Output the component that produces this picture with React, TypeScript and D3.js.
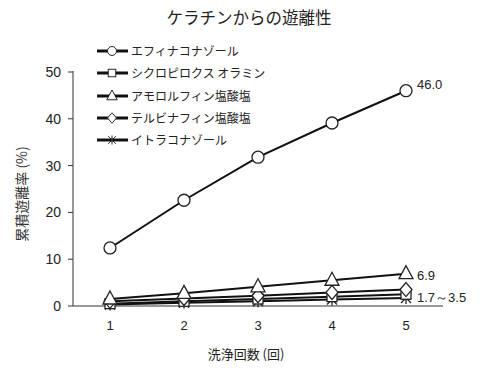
import React from "react";
import * as d3 from "d3";

const categories = ["1", "2", "3", "4", "5"];
const seriesNames = ["エフィナコナゾール", "シクロピロクス オラミン", "アモロルフィン塩酸塩", "テルビナフィン塩酸塩", "イトラコナゾール"];
const efinaconazole = [12.4, 22.6, 31.8, 39.1, 46.0];
const ciclopirox = [0.5, 1.0, 1.5, 2.0, 2.5];
const amorolfine = [1.5, 2.7, 4.1, 5.5, 6.9];
const terbinafine = [1.0, 1.6, 2.2, 2.9, 3.5];
const itraconazole = [0.3, 0.7, 1.0, 1.4, 1.7];
const yTicks = [0, 10, 20, 30, 40, 50];
const markers = ["circle", "square", "triangle", "diamond", "star"];
const endLabels = [
  { series: 0, text: "46.0", dy: -2 },
  { series: 2, text: "6.9", dy: 6 },
  { series: 4, text: "1.7～3.5", dy: 0 },
];

const allSeries = [efinaconazole, ciclopirox, amorolfine, terbinafine, itraconazole];

const W = 480, H = 377;
const left = 73, right = 443, top = 72, bottom = 306;
const jp = "'Noto Sans CJK JP', 'Liberation Sans', sans-serif";
const num = "'Liberation Sans', Arial, sans-serif";

function Marker({ type, x, y }: { type: string; x: number; y: number }) {
  const st = { fill: "#fff", stroke: "#222", strokeWidth: 1.3 };
  if (type === "circle") return <circle cx={x} cy={y} r={6} {...st} />;
  if (type === "square") return <rect x={x - 5} y={y - 5} width={10} height={10} {...st} />;
  if (type === "triangle")
    return <path d={`M${x},${y - 8}L${x + 7},${y + 5}L${x - 7},${y + 5}Z`} {...st} />;
  if (type === "diamond")
    return <path d={`M${x},${y - 7}L${x + 6},${y}L${x},${y + 7}L${x - 6},${y}Z`} {...st} />;
  return (
    <g stroke="#222" strokeWidth={1.3}>
      <line x1={x - 5} y1={y - 5} x2={x + 5} y2={y + 5} />
      <line x1={x - 5} y1={y + 5} x2={x + 5} y2={y - 5} />
      <line x1={x} y1={y - 6} x2={x} y2={y + 6} />
    </g>
  );
}

export default function App() {
  const x = d3.scaleBand<string>().domain(categories).range([left, right]);
  const y = d3.scaleLinear().domain([0, 50]).range([bottom, top]);
  const cx = (c: string) => (x(c) as number) + x.bandwidth() / 2;
  const line = d3
    .line<number>()
    .x((_, i) => cx(categories[i]))
    .y((d) => y(d));

  const legendY = [51, 73, 96, 118, 140];
  const drawOrder = [4, 1, 3, 2, 0];

  return (
    <svg width={W} height={H} style={{ position: "absolute", left: 0, top: 0, background: "#fff" }}>
      <text x={249} y={24} textAnchor="middle" fontFamily={jp} fontSize={16.5} fill="#222">
        ケラチンからの遊離性
      </text>
      {/* axes */}
      <line x1={left} y1={top - 1} x2={left} y2={bottom} stroke="#333" strokeWidth={1} />
      <line x1={left} y1={bottom} x2={right} y2={bottom} stroke="#333" strokeWidth={1} />
      {yTicks.map((t) => (
        <g key={t}>
          <line x1={left - 5} x2={left} y1={y(t)} y2={y(t)} stroke="#333" />
          <text x={61} y={y(t) + 5} textAnchor="end" fontFamily={num} fontSize={14} fill="#222">
            {t}
          </text>
        </g>
      ))}
      {categories.map((c) => (
        <text key={c} x={cx(c)} y={330} textAnchor="middle" fontFamily={num} fontSize={13} fill="#222">
          {c}
        </text>
      ))}
      <text x={246} y={359} textAnchor="middle" fontFamily={jp} fontSize={13} fill="#222">
        洗浄回数 (回)
      </text>
      <text
        transform={`translate(27,194) rotate(-90)`}
        textAnchor="middle"
        fontFamily={jp}
        fontSize={14}
        fill="#333"
      >
        累積遊離率 (%)
      </text>
      {/* series */}
      {drawOrder.map((si) => (
        <g key={si}>
          <path d={line(allSeries[si]) as string} fill="none" stroke="#111" strokeWidth={2} />
          {allSeries[si].map((v, i) => (
            <Marker key={i} type={markers[si]} x={cx(categories[i])} y={y(v)} />
          ))}
        </g>
      ))}
      {/* end labels */}
      {endLabels.map((l) => {
        const v = allSeries[l.series][4];
        const yy = l.series === 4 ? 302 : y(v) + l.dy;
        return (
          <text key={l.text} x={417} y={yy} fontFamily={num} fontSize={13} fill="#222">
            {l.text}
          </text>
        );
      })}
      {/* legend */}
      {seriesNames.map((n, i) => (
        <g key={n}>
          <line x1={97} x2={128} y1={legendY[i]} y2={legendY[i]} stroke="#111" strokeWidth={3} />
          <g transform={`translate(${112},${legendY[i]}) scale(0.75) translate(${-112},${-legendY[i]})`}>
            <Marker type={markers[i]} x={112} y={legendY[i]} />
          </g>
          <text x={131} y={legendY[i] + 4.5} fontFamily={jp} fontSize={12} fill="#222">
            {n}
          </text>
        </g>
      ))}
    </svg>
  );
}
